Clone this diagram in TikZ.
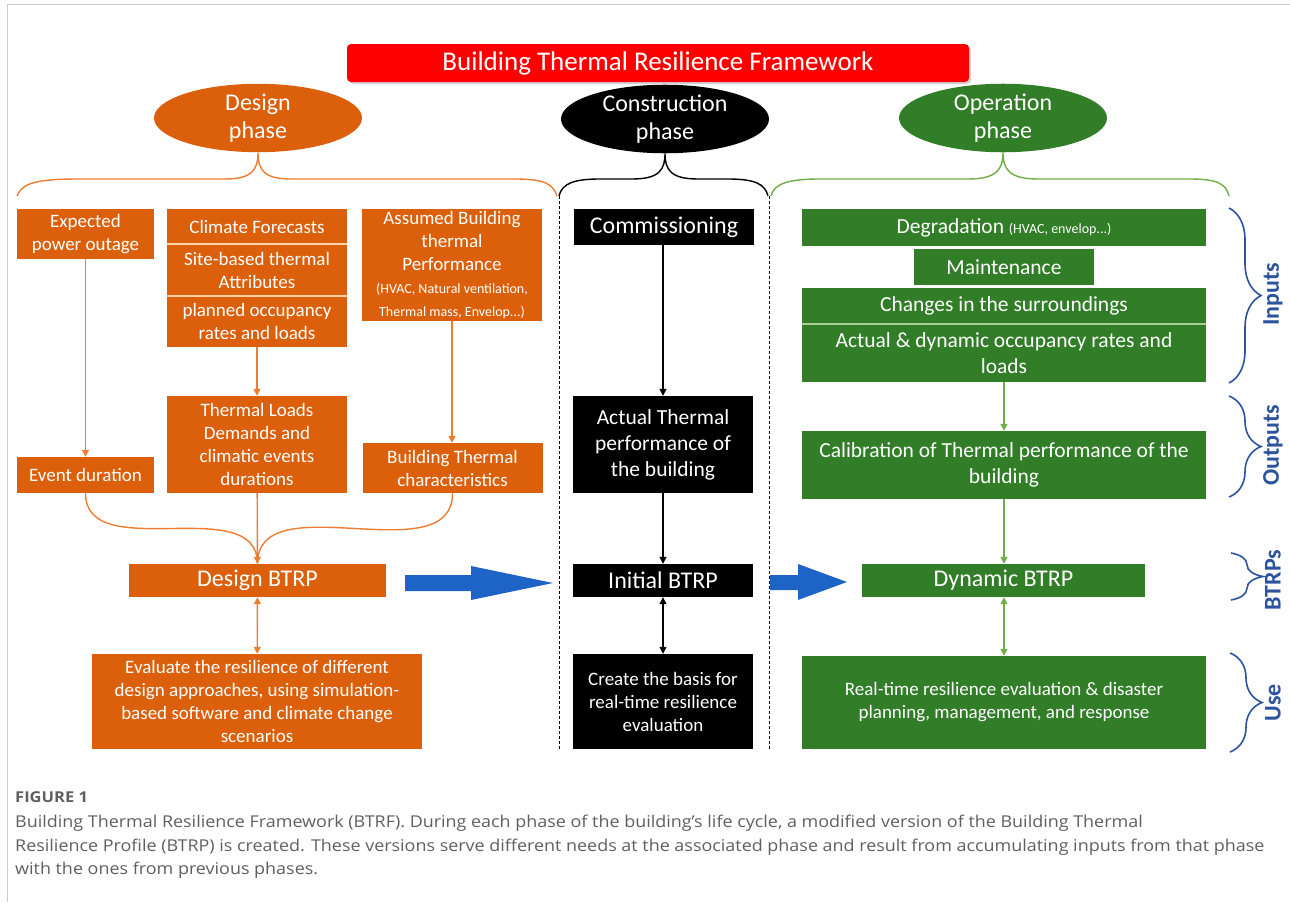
\documentclass[tikz,border=0pt]{standalone}
\usepackage{fontspec}
\setmainfont{Carlito}
\newfontfamily\capfont[FakeStretch=1.1]{Open Sans}
\usetikzlibrary{arrows.meta,shapes,shadows,decorations.pathreplacing,calc}

\definecolor{dorange}{RGB}{220,96,12}
\definecolor{lorange}{RGB}{237,125,49}
\definecolor{dgreen}{RGB}{50,126,40}
\definecolor{lgreen}{RGB}{112,173,71}
\definecolor{bblue}{RGB}{30,99,198}
\definecolor{sblue}{RGB}{44,84,158}
\definecolor{capgray}{RGB}{95,95,95}

\newcommand{\smalltxt}{\fontsize{14}{17}\selectfont}

\begin{document}
\begin{tikzpicture}[x=1pt,y=-1pt]
  \tikzset{
    decoration={brace,amplitude=32pt},
    tuborg/.style={decorate, draw=sblue, line width=1.6pt},
    sidelabel/.style={rotate=90, text=sblue, font=\bfseries\fontsize{24}{28}\selectfont},
    phase/.style={ellipse, text=white, align=center, inner sep=0pt,
      minimum width=208, minimum height=65, font=\fontsize{24}{28}\selectfont},
    box/.style={text=white, align=center, inner sep=0pt, font=\fontsize{19}{23}\selectfont},
    designbox/.style={box, fill=dorange},
    buildbox/.style={box, fill=black},
    usebox/.style={box, fill=dgreen, font=\fontsize{21.5}{26}\selectfont},
    btrp/.style={font=\fontsize{24}{28}\selectfont},
    oline/.style={draw=lorange, line width=1.4pt},
    oarrow/.style={oline, -{Triangle[width=7pt,length=7pt]}},
    karrow/.style={draw=black, line width=1.2pt, -{Triangle[width=7pt,length=7pt]}},
    garrow/.style={draw=lgreen, line width=1.4pt, -{Triangle[width=7pt,length=7pt]}},
    bigarrow/.style={fill=bblue},
    sepline/.style={line width=1.5pt},
    colsep/.style={draw=black, line width=0.9pt, dash pattern=on 3pt off 2pt},
  }
  \useasboundingbox (0,0) rectangle (1290,902);
  \draw[black!20, line width=1pt] (7,902) -- (7,4) -- (1290,4);

  % title
  \node[fill=red, rounded corners=4pt, minimum width=622, minimum height=38, inner sep=0pt,
    text=white, font=\fontsize{27}{30}\selectfont,
    drop shadow={shadow xshift=2pt, shadow yshift=-2pt, opacity=0.35}] (title) at (658,63)
    {Building Thermal Resilience Framework};

  % phases
  \node[phase, fill=dorange] (design) at (258,118) {Design\\phase};
  \node[phase, fill=black] (construction) at (665,119) {Construction\\phase};
  \node[phase, fill=dgreen] (operation) at (1003,118) {Operation\\phase};

  \draw[oline] (17,196) .. controls (22,182) and (40,179) .. (80,179) -- (225,179)
    .. controls (252,179) and (258,170) .. (design.south)
    .. controls (258,170) and (264,179) .. (291,179) -- (515,179)
    .. controls (545,179) and (553,184) .. (557,196);
  \draw[black, line width=1.4pt] (559,196) .. controls (562,183) and (575,179) .. (600,179) -- (632,179)
    .. controls (659,179) and (665,170) .. (construction.south)
    .. controls (665,170) and (671,179) .. (698,179) -- (728,179)
    .. controls (755,179) and (765,184) .. (768,196);
  \draw[lgreen, line width=1.4pt] (771,196) .. controls (774,183) and (790,179) .. (820,179) -- (968,179)
    .. controls (996,179) and (1003,170) .. (operation.south)
    .. controls (1003,170) and (1010,179) .. (1038,179) -- (1190,179)
    .. controls (1218,179) and (1226,184) .. (1229,196);

  \draw[colsep] (559,196) -- (559,749);
  \draw[colsep] (769,196) -- (769,749);

  % design phase
  \node[designbox, minimum width=137, minimum height=50] (outage) at (85.5,234) {Expected\\power outage};
  \node[designbox, minimum width=180, minimum height=35] (climate) at (257,226.5) {Climate Forecasts};
  \node[designbox, minimum width=180, minimum height=52] (site) at (257,270) {Site-based thermal\\Attributes};
  \node[designbox, minimum width=180, minimum height=51] (planned) at (257,321.5) {planned occupancy\\rates and loads};
  \draw[sepline, orange!35!white] (climate.south west) -- (climate.south east);
  \draw[sepline, orange!35!white] (site.south west) -- (site.south east);
  \node[designbox, minimum width=180, minimum height=112] (assumed) at (452,265)
    {Assumed Building\\thermal\\Performance\\{\smalltxt(HVAC, Natural ventilation,}\\{\smalltxt Thermal mass, Envelop...)}};
  \node[designbox, minimum width=137, minimum height=36] (event) at (85.5,475) {Event duration};
  \node[designbox, minimum width=180, minimum height=97] (loads) at (257,444.5)
    {Thermal Loads\\Demands and\\climatic events\\durations};
  \node[designbox, minimum width=180, minimum height=50] (bchar) at (452.5,468) {Building Thermal\\characteristics};
  \node[designbox, btrp, minimum width=257, minimum height=33] (dbtrp) at (257.5,580.5) {Design BTRP};
  \node[designbox, minimum width=330, minimum height=95] (evaluate) at (257,701.5)
    {Evaluate the resilience of different\\design approaches, using simulation-\\based software and climate change\\scenarios};

  \draw[oarrow] (outage) -- (event);
  \draw[oarrow] (planned) -- (loads);
  \draw[oarrow] (assumed.south) -- (assumed.south |- bchar.north);
  \draw[oline] (event.south) to[out=-90,in=90] (dbtrp.north);
  \draw[oline] (bchar.south) to[out=-90,in=90] (dbtrp.north);
  \draw[oarrow] (loads) -- (dbtrp);
  \draw[oarrow, {Triangle[width=7pt,length=7pt]}-{Triangle[width=7pt,length=7pt]}] (dbtrp) -- (evaluate);

  % construction phase
  \node[buildbox, btrp, minimum width=180, minimum height=36] (comm) at (664,227) {Commissioning};
  \node[buildbox, minimum width=180, minimum height=97, font=\fontsize{21.5}{26}\selectfont] (actual) at (663,444.5)
    {Actual Thermal\\performance of\\the building};
  \node[buildbox, btrp, minimum width=180, minimum height=33] (ibtrp) at (663,580.5) {Initial BTRP};
  \node[buildbox, minimum width=180, minimum height=95] (create) at (663,701.5)
    {Create the basis for\\real-time resilience\\evaluation};

  \draw[karrow] (comm.south -| actual) -- (actual);
  \draw[karrow] (actual) -- (ibtrp);
  \draw[karrow, {Triangle[width=7pt,length=7pt]}-{Triangle[width=7pt,length=7pt]}] (ibtrp) -- (create);

  % operation phase
  \node[usebox, minimum width=404, minimum height=37] (degr) at (1004,227.5)
    {Degradation {\smalltxt(HVAC, envelop...)}};
  \node[usebox, minimum width=180, minimum height=36] (maint) at (1004,267) {Maintenance};
  \node[usebox, minimum width=404, minimum height=36] (changes) at (1004,306) {Changes in the surroundings};
  \node[usebox, minimum width=404, minimum height=58] (occup) at (1004,353)
    {Actual \& dynamic occupancy rates and\\loads};
  \draw[sepline, lgreen!60!white] (changes.south west) -- (changes.south east);
  \node[usebox, minimum width=404, minimum height=68] (calib) at (1004,465)
    {Calibration of Thermal performance of the\\building};
  \node[usebox, btrp, minimum width=283, minimum height=33] (dynbtrp) at (1003.5,580.5) {Dynamic BTRP};
  \node[usebox, minimum width=404, minimum height=93, font=\fontsize{19}{23}\selectfont] (realtime) at (1004,702.5)
    {Real-time resilience evaluation \& disaster\\planning, management, and response};

  \draw[garrow] (occup) -- (calib);
  \draw[garrow] (calib) -- (calib.south |- dynbtrp.north);
  \draw[garrow, {Triangle[width=7pt,length=7pt]}-{Triangle[width=7pt,length=7pt]}] (dynbtrp.south -| realtime) -- (realtime);

  % BTRP flow
  \fill[bigarrow] (405,575) -- (471,575) -- (471,566) -- (553,583) -- (471,600) -- (471,591) -- (405,591) -- cycle;
  \fill[bigarrow] (770,575) -- (798,575) -- (798,564) -- (847,582) -- (798,600) -- (798,590) -- (770,590) -- cycle;

  % side braces
  \draw[tuborg] (1229,208) -- (1229,383);
  \draw[tuborg] (1229,396) -- (1229,497);
  \draw[tuborg] (1231,553) -- (1231,600);
  \draw[tuborg] (1230,653) -- (1230,752);
  \node[sidelabel] (inputs) at (1273,294) {Inputs};
  \node[sidelabel] (outputs) at (1273,445) {Outputs};
  \node[sidelabel] (btrps) at (1273,580) {BTRPs};
  \node[sidelabel] (use) at (1273,703) {Use};

  % caption
  \node[anchor=west, inner sep=0pt, text=capgray, font=\capfont\bfseries\fontsize{15}{18}\selectfont] (figlabel) at (15,797) {FIGURE 1};
  \node[anchor=north west, inner sep=0pt, align=left, text=capgray, font=\capfont\fontsize{16.3}{23.5}\selectfont] (caption) at (15,815)
    {Building Thermal Resilience Framework (BTRF). During each phase of the building’s life cycle, a modified version of the Building Thermal\\
     Resilience Profile (BTRP) is created. These versions serve different needs at the associated phase and result from accumulating inputs from that phase\\
     with the ones from previous phases.};
\end{tikzpicture}
\end{document}
